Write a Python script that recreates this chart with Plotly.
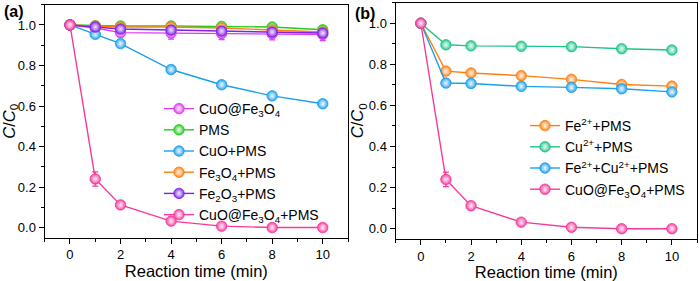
import plotly.graph_objects as go

time = [0, 1, 2, 4, 6, 8, 10]

# Panel (a)
a_cuo_fe3o4 = [1.0, 0.985, 0.962, 0.960, 0.958, 0.956, 0.953]
a_cuo_fe3o4_err = [0.0, 0.01, 0.02, 0.03, 0.03, 0.03, 0.03]
a_pms = [1.0, 0.996, 0.995, 0.995, 0.993, 0.99, 0.976]
a_cuo_pms = [1.0, 0.954, 0.908, 0.780, 0.705, 0.650, 0.611]
a_fe3o4_pms = [1.0, 0.995, 0.99, 0.99, 0.985, 0.975, 0.965]
a_fe2o3_pms = [1.0, 0.99, 0.98, 0.975, 0.970, 0.965, 0.960]
a_fe2o3_err = [0.0, 0.01, 0.015, 0.02, 0.02, 0.02, 0.02]
cat_pms = [1.0, 0.240, 0.112, 0.032, 0.007, 0.0, 0.0]
cat_pms_err = [0.0, 0.035, 0.0, 0.0, 0.0, 0.0, 0.0]

# Panel (b)
b_fe_pms = [1.0, 0.767, 0.758, 0.745, 0.727, 0.702, 0.694]
b_cu_pms = [1.0, 0.895, 0.890, 0.888, 0.886, 0.876, 0.870]
b_fecu_pms = [1.0, 0.709, 0.707, 0.693, 0.688, 0.681, 0.666]

names_a = ["CuO@Fe<sub>3</sub>O<sub>4</sub>", "PMS", "CuO+PMS",
           "Fe<sub>3</sub>O<sub>4</sub>+PMS", "Fe<sub>2</sub>O<sub>3</sub>+PMS",
           "CuO@Fe<sub>3</sub>O<sub>4</sub>+PMS"]
names_b = ["Fe<sup>2+</sup>+PMS", "Cu<sup>2+</sup>+PMS",
           "Fe<sup>2+</sup>+Cu<sup>2+</sup>+PMS", "CuO@Fe<sub>3</sub>O<sub>4</sub>+PMS"]

C_MAG = "#DD3CF0"
C_GRN = "#22CC22"
C_BLU = "#1C9FEC"
C_ORG = "#FF8011"
C_PUR = "#7E22EE"
C_PNK = "#F7399C"
C_TEAL = "#1FC586"

FONT = "Arial, Liberation Sans, sans-serif"

fig = go.Figure()


def add(x, y, name, color, xa, ya, legend, err=None):
    tr = dict(
        x=x, y=y, name=name, mode="lines+markers",
        line=dict(color=color, width=1.4),
        marker=dict(color=color, size=10.5, symbol="circle",
                    line=dict(color=color, width=0.8),
                    gradient=dict(type="radial", color="rgba(255,255,255,0.85)")),
        xaxis=xa, yaxis=ya, legend=legend,
    )
    if err is not None:
        tr["error_y"] = dict(type="data", array=err, visible=True, color=color,
                             thickness=1.2, width=3)
    fig.add_trace(go.Scatter(**tr))


add(time, a_cuo_fe3o4, names_a[0], C_MAG, "x", "y", "legend", a_cuo_fe3o4_err)
add(time, a_pms, names_a[1], C_GRN, "x", "y", "legend")
add(time, a_cuo_pms, names_a[2], C_BLU, "x", "y", "legend")
add(time, a_fe3o4_pms, names_a[3], C_ORG, "x", "y", "legend")
add(time, a_fe2o3_pms, names_a[4], C_PUR, "x", "y", "legend", a_fe2o3_err)
add(time, cat_pms, names_a[5], C_PNK, "x", "y", "legend", cat_pms_err)

add(time, b_fe_pms, names_b[0], C_ORG, "x2", "y2", "legend2")
add(time, b_cu_pms, names_b[1], C_TEAL, "x2", "y2", "legend2")
add(time, b_fecu_pms, names_b[2], C_BLU, "x2", "y2", "legend2")
add(time, cat_pms, names_b[3], C_PNK, "x2", "y2", "legend2", cat_pms_err)

W, H = 700, 281

xcommon = dict(range=[-1, 11], tickmode="linear", tick0=0, dtick=2, automargin=False,
               showline=True, linecolor="black", linewidth=1.3, mirror=True,
               ticks="outside", ticklen=5, tickwidth=1.2, tickcolor="black",
               minor=dict(ticks="outside", ticklen=3, tickwidth=1, tickcolor="black", dtick=1, tick0=0),
               showgrid=False, zeroline=False,
               tickfont=dict(family=FONT, size=13, color="black"),
               title=dict(text="Reaction time (min)", font=dict(family=FONT, size=16.5, color="black"), standoff=0))
ycommon = dict(range=[-0.05, 1.1], tickmode="linear", tick0=0, dtick=0.2, tickformat=".1f", automargin=False,
               showline=True, linecolor="black", linewidth=1.3, mirror=True,
               ticks="outside", ticklen=5, tickwidth=1.2, tickcolor="black",
               minor=dict(ticks="outside", ticklen=3, tickwidth=1, tickcolor="black", dtick=0.1, tick0=0),
               showgrid=False, zeroline=False,
               tickfont=dict(family=FONT, size=13, color="black"),
               title=dict(text="<i>C</i>/<i>C</i><sub>0</sub>", font=dict(family=FONT, size=16.5, color="black"), standoff=0))

fig.update_layout(
    width=W, height=H,
    margin=dict(l=0, r=0, t=0, b=0, autoexpand=False),
    paper_bgcolor="white", plot_bgcolor="white",
    font=dict(family=FONT, color="black"),
    xaxis=dict(domain=[44.7 / W, 348 / W], anchor="y", **xcommon),
    yaxis=dict(domain=[1 - 237.7 / H, 1 - 4.7 / H], anchor="x", **ycommon),
    xaxis2=dict(domain=[395.7 / W, 697 / W], anchor="y2", **xcommon),
    yaxis2=dict(domain=[1 - 239 / H, 1 - 2.7 / H], anchor="x2", **ycommon),
    legend=dict(x=159 / W, y=1 - 93 / H, xanchor="left", yanchor="top",
                bgcolor="rgba(0,0,0,0)", font=dict(family=FONT, size=14, color="black"),
                tracegroupgap=0, itemwidth=30),
    legend2=dict(x=525 / W, y=1 - 110 / H, xanchor="left", yanchor="top",
                 bgcolor="rgba(0,0,0,0)", font=dict(family=FONT, size=14, color="black"),
                 tracegroupgap=0, itemwidth=30),
    showlegend=True,
    annotations=[
        dict(text="<b>(a)</b>", x=2 / W, y=1 - 12 / H, xref="paper", yref="paper",
             xanchor="left", yanchor="middle", showarrow=False,
             font=dict(family=FONT, size=16, color="black")),
        dict(text="<b>(b)</b>", x=353 / W, y=1 - 14 / H, xref="paper", yref="paper",
             xanchor="left", yanchor="middle", showarrow=False,
             font=dict(family=FONT, size=16, color="black")),
    ],
)

fig.write_html("out.html", config={"displayModeBar": False},
               post_script="document.body.style.margin='0';")
